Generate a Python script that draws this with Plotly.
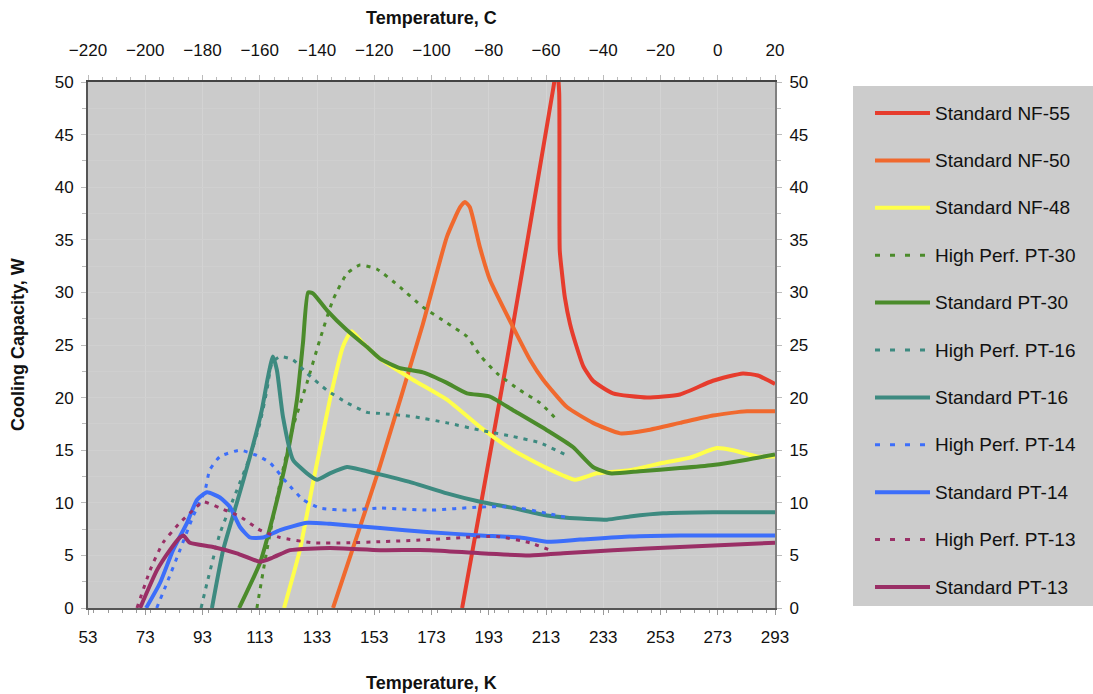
import plotly.graph_objects as go

# ---- cooling capacity curves (temperature in K, capacity in W) ----
nf55_k = [183.7, 199.4, 210.0, 215.6, 216.8, 217.6, 217.8, 218.6, 219.6, 221.4, 223.5, 226.0, 229.4, 236.4, 248.3, 259.8, 271.3, 281.8, 287.0, 293.0]
nf55_w = [0, 23.6, 40.5, 49.5, 51.5, 49.0, 34.0, 31.8, 29.5, 27.0, 25.0, 23.0, 21.6, 20.4, 20.0, 20.3, 21.6, 22.3, 22.1, 21.3]

nf50_k = [138.6, 155.0, 170.0, 178.4, 183.0, 184.7, 186.4, 189.9, 193.4, 201.5, 207.4, 212.0, 220.3, 229.4, 238.9, 248.3, 259.8, 271.3, 283.2, 293.0]
nf50_w = [0, 13.5, 27.0, 35.3, 38.1, 38.6, 38.1, 34.3, 31.2, 26.7, 23.6, 21.7, 19.1, 17.6, 16.6, 16.9, 17.6, 18.3, 18.7, 18.7]

nf48_k = [121.5, 127.0, 131.6, 137.5, 142.0, 143.5, 145.1, 149.0, 155.0, 166.5, 178.4, 190.0, 201.5, 213.3, 223.1, 230.8, 242.3, 253.9, 263.3, 272.7, 278.3, 286.7, 293.0]
nf48_w = [0, 5.5, 11.9, 19.8, 24.8, 25.7, 26.3, 25.2, 23.7, 21.7, 19.8, 17.2, 15.0, 13.3, 12.2, 12.8, 13.1, 13.8, 14.3, 15.2, 15.0, 14.4, 14.4]

hp_pt30_k = [112.0, 115.5, 120.1, 124.6, 129.5, 134.0, 138.6, 143.5, 148.0, 154.0, 162.0, 170.0, 178.4, 185.4, 190.0, 195.9, 203.9, 210.9, 216.8]
hp_pt30_w = [0, 5.5, 11.9, 17.2, 21.4, 25.5, 29.3, 31.8, 32.6, 32.2, 30.5, 28.6, 27.1, 25.8, 24.0, 22.3, 20.7, 19.5, 17.9]

pt30_k = [105.8, 113.1, 117.6, 122.5, 126.0, 128.1, 129.9, 131.6, 136.5, 143.5, 150.5, 155.0, 162.0, 170.0, 178.4, 185.4, 193.4, 201.5, 213.3, 222.4, 229.4, 235.4, 245.8, 259.8, 271.3, 283.2, 293.0]
pt30_w = [0, 4.3, 8.7, 14.4, 19.8, 25.2, 30.0, 29.9, 28.3, 26.4, 24.8, 23.7, 22.8, 22.4, 21.4, 20.4, 20.1, 18.8, 16.9, 15.3, 13.4, 12.8, 13.0, 13.3, 13.6, 14.1, 14.6]

hp_pt16_k = [92.5, 94.6, 99.1, 105.0, 109.6, 113.1, 115.5, 117.3, 120.1, 124.6, 129.5, 136.5, 143.5, 150.5, 155.0, 166.5, 178.4, 190.0, 201.5, 210.9, 220.3]
hp_pt16_w = [0, 2.4, 7.1, 11.2, 14.4, 17.6, 20.7, 23.3, 23.9, 23.6, 22.3, 20.7, 19.5, 18.6, 18.5, 18.2, 17.6, 16.9, 16.3, 15.7, 14.5]

pt16_k = [96.3, 100.2, 105.0, 109.6, 113.7, 115.9, 117.6, 119.0, 121.1, 124.6, 129.5, 133.0, 137.5, 143.5, 149.0, 155.0, 166.5, 178.4, 190.0, 201.5, 213.3, 224.9, 234.3, 242.3, 253.9, 271.3, 293.0]
pt16_w = [0, 5.5, 10.0, 14.4, 18.8, 22.0, 23.9, 22.6, 18.2, 14.1, 12.8, 12.2, 12.8, 13.4, 13.1, 12.7, 11.9, 10.9, 10.1, 9.5, 8.8, 8.5, 8.4, 8.7, 9.0, 9.1, 9.1]

hp_pt14_k = [77.0, 80.6, 85.1, 89.7, 93.9, 95.5, 99.1, 106.1, 112.0, 116.6, 122.5, 128.1, 134.0, 143.5, 155.0, 172.5, 190.0, 201.5, 213.3, 220.3]
hp_pt14_w = [0, 2.4, 5.5, 8.7, 11.2, 13.1, 14.4, 15.0, 14.5, 13.8, 11.9, 10.3, 9.5, 9.3, 9.5, 9.3, 9.6, 9.6, 9.0, 8.6]

pt14_k = [73.3, 78.2, 82.7, 87.6, 91.1, 94.6, 99.1, 102.6, 106.1, 109.6, 114.1, 120.1, 129.5, 137.5, 155.0, 172.5, 190.0, 203.9, 213.3, 224.9, 242.3, 259.8, 293.0]
pt14_w = [0, 2.4, 5.5, 8.1, 10.3, 11.0, 10.5, 9.6, 7.7, 6.7, 6.7, 7.4, 8.1, 8.0, 7.6, 7.2, 6.9, 6.7, 6.3, 6.5, 6.8, 6.9, 6.9]

hp_pt13_k = [70.1, 74.7, 79.2, 85.1, 89.7, 93.2, 99.1, 106.1, 113.1, 120.1, 131.6, 143.5, 155.0, 172.5, 184.0, 195.9, 207.4, 214.4]
hp_pt13_w = [0, 3.6, 6.2, 8.1, 9.3, 10.1, 9.5, 8.7, 7.4, 6.7, 6.2, 6.2, 6.3, 6.5, 6.7, 6.8, 6.2, 5.5]

pt13_k = [71.2, 77.1, 81.6, 85.1, 86.3, 88.6, 96.7, 105.0, 113.1, 117.6, 123.6, 137.5, 155.0, 172.5, 190.0, 207.4, 219.0, 236.4, 259.8, 293.0]
pt13_w = [0, 3.6, 5.5, 6.7, 6.9, 6.2, 5.8, 5.2, 4.4, 4.8, 5.5, 5.7, 5.5, 5.5, 5.2, 5.0, 5.2, 5.5, 5.8, 6.2]

names = ["Standard NF-55", "Standard NF-50", "Standard NF-48",
         "High Perf. PT-30", "Standard PT-30",
         "High Perf. PT-16", "Standard PT-16",
         "High Perf. PT-14", "Standard PT-14",
         "High Perf. PT-13", "Standard PT-13"]
series = [(nf55_k, nf55_w), (nf50_k, nf50_w), (nf48_k, nf48_w),
          (hp_pt30_k, hp_pt30_w), (pt30_k, pt30_w),
          (hp_pt16_k, hp_pt16_w), (pt16_k, pt16_w),
          (hp_pt14_k, hp_pt14_w), (pt14_k, pt14_w),
          (hp_pt13_k, hp_pt13_w), (pt13_k, pt13_w)]
colors = ["#e63c2d", "#f0692e", "#ffff4a",
          "#4b8b2b", "#4b8b2b",
          "#3d8a80", "#3d8a80",
          "#3c6efa", "#3c6efa",
          "#9a2f66", "#9a2f66"]
dashed = [False, False, False, True, False, True, False, True, False, True, False]

k_ticks = list(range(53, 294, 20))
c_ticks = list(range(-220, 21, 20))
w_ticks = list(range(0, 51, 5))

fig = go.Figure()
for (xk, yw), name, col, dsh in zip(series, names, colors, dashed):
    fig.add_trace(go.Scatter(
        x=xk, y=yw, name=name, mode="lines", showlegend=False,
        line=dict(color=col, width=3 if dsh else 4,
                  dash="4px,6px" if dsh else "solid",
                  shape="spline", smoothing=0.5),
    ))

# empty trace that binds the Celsius (top) and right-hand axes
fig.add_trace(go.Scatter(x=[c_ticks[0], c_ticks[-1]], y=[w_ticks[0], w_ticks[-1]],
                         xaxis="x2", yaxis="y2", mode="none", hoverinfo="skip",
                         showlegend=False))

font_main = "Liberation Sans, Arial, sans-serif"
tick_font = dict(family=font_main, size=17, color="#111")

fig.update_layout(
    width=1093, height=694,
    margin=dict(l=88, r=318, t=82, b=86),
    paper_bgcolor="white", plot_bgcolor="#cbcbcb",
    font=dict(family=font_main, color="#111"),
    xaxis=dict(range=[53, 293], tickvals=k_ticks, ticks="outside", ticklen=5,
               tickcolor="#999", tickfont=tick_font, ticklabelstandoff=8,
               showline=True, linecolor="#555", linewidth=2,
               showgrid=True, gridcolor="#d3d3d3", gridwidth=1,
               minor=dict(dtick=5, ticks="outside", ticklen=3, tickcolor="#999"),
               zeroline=False),
    xaxis2=dict(range=[-220, 20], tickvals=c_ticks, overlaying="x", side="top",
                anchor="y", ticks="outside", ticklen=5, tickcolor="#bbb",
                tickfont=tick_font, ticklabelstandoff=12,
                showline=True, linecolor="#444", linewidth=2,
                showgrid=False, zeroline=False,
                minor=dict(dtick=5, ticks="outside", ticklen=3, tickcolor="#bbb")),
    yaxis=dict(range=[0, 50], tickvals=w_ticks, ticks="outside", ticklen=5,
               tickcolor="#bbb", tickfont=tick_font, ticklabelstandoff=4,
               showline=True, linecolor="#555", linewidth=2,
               showgrid=True, gridcolor="#d0d0d0", gridwidth=1, zeroline=False,
               minor=dict(dtick=2.5, ticks="outside", ticklen=4, tickcolor="#bbb",
                          showgrid=True, gridcolor="#cfcfcf")),
    yaxis2=dict(range=[0, 50], tickvals=w_ticks, overlaying="y", side="right",
                anchor="x", ticks="outside", ticklen=5, tickcolor="#bbb",
                tickfont=tick_font, ticklabelstandoff=4,
                showline=True, linecolor="#808080", linewidth=2,
                showgrid=False, zeroline=False,
                minor=dict(dtick=2.5, ticks="outside", ticklen=4, tickcolor="#bbb")),
    showlegend=False,
)

# axis titles
title_font = dict(family=font_main, size=18, color="#111")
fig.add_annotation(text="<b>Temperature, C</b>", xref="paper", yref="paper",
                   x=0.5, y=1.0, yshift=64, xanchor="center", yanchor="middle",
                   showarrow=False, font=title_font)
fig.add_annotation(text="<b>Temperature, K</b>", xref="paper", yref="paper",
                   x=0.5, y=0.0, yshift=-75, xanchor="center", yanchor="middle",
                   showarrow=False, font=title_font)
fig.add_annotation(text="<b>Cooling Capacity, W</b>", xref="paper", yref="paper",
                   x=0.0, y=0.5, xshift=-70, xanchor="center", yanchor="middle",
                   textangle=-90, showarrow=False, font=title_font)

# legend panel drawn to the right of the plot area
plot_l, plot_r, plot_t, plot_b = 88, 775, 82, 608


def px_x(p):
    return (p - plot_l) / (plot_r - plot_l)


def px_y(p):
    return (plot_b - p) / (plot_b - plot_t)


fig.add_shape(type="rect", xref="paper", yref="paper",
              x0=px_x(853), x1=px_x(1093), y0=px_y(606), y1=px_y(86),
              fillcolor="#cccccc", line=dict(width=0), layer="below")
for i, (name, col, dsh) in enumerate(zip(names, colors, dashed)):
    yy = px_y(113 + i * 47.4)
    fig.add_shape(type="line", xref="paper", yref="paper",
                  x0=px_x(875), x1=px_x(930), y0=yy, y1=yy,
                  line=dict(color=col, width=3 if dsh else 4,
                            dash="5px,10px" if dsh else "solid"))
    fig.add_annotation(text=name, xref="paper", yref="paper",
                       x=px_x(933), y=yy, xanchor="left", yanchor="middle",
                       showarrow=False,
                       font=dict(family=font_main, size=19, color="#111"))

fig.write_html("out.html")
